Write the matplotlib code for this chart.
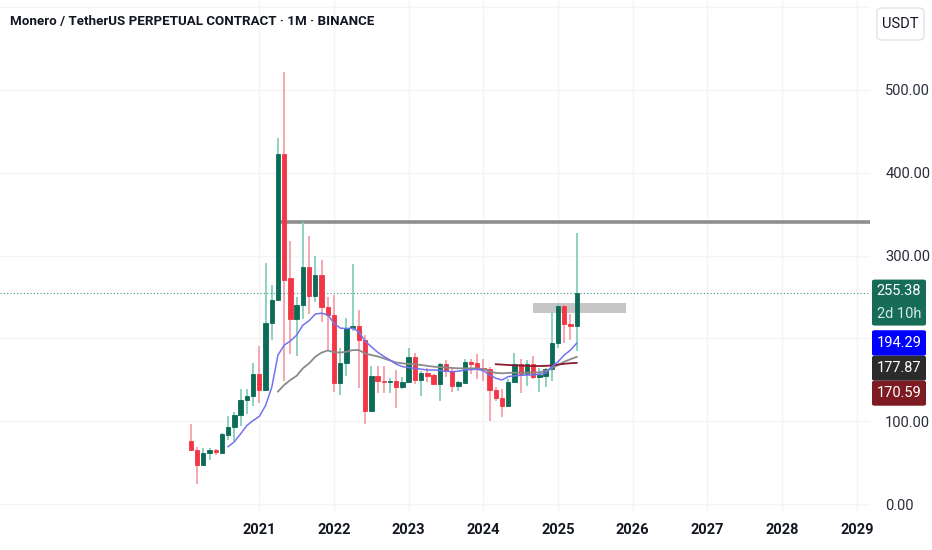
import matplotlib
matplotlib.use("Agg")
import matplotlib.pyplot as plt
from matplotlib.patches import Rectangle, FancyBboxPatch

# monthly candles, Feb 2020 .. Apr 2025 (index 0 = Feb 2020)
months = ["2020-02", "2020-03", "2020-04", "2020-05", "2020-06", "2020-07", "2020-08",
          "2020-09", "2020-10", "2020-11", "2020-12", "2021-01", "2021-02", "2021-03",
          "2021-04", "2021-05", "2021-06", "2021-07", "2021-08", "2021-09", "2021-10",
          "2021-11", "2021-12", "2022-01", "2022-02", "2022-03", "2022-04", "2022-05",
          "2022-06", "2022-07", "2022-08", "2022-09", "2022-10", "2022-11", "2022-12",
          "2023-01", "2023-02", "2023-03", "2023-04", "2023-05", "2023-06", "2023-07",
          "2023-08", "2023-09", "2023-10", "2023-11", "2023-12", "2024-01", "2024-02",
          "2024-03", "2024-04", "2024-05", "2024-06", "2024-07", "2024-08", "2024-09",
          "2024-10", "2024-11", "2024-12", "2025-01", "2025-02", "2025-03", "2025-04"]
opens = [76, 66, 47, 62, 65, 62, 84, 93, 108, 126, 131, 157, 138, 219, 247, 422, 273, 223,
         241, 286, 251, 276, 238, 228, 146, 170, 213, 215, 198, 113, 155, 149, 147, 149,
         142, 147, 178, 150, 158, 156, 145, 169, 161, 143, 146, 171.5, 170, 164, 163.5,
         138, 128, 118, 148, 169, 157, 169, 154, 155, 163, 194, 238.6, 218, 215]
highs = [97, 69, 68, 68, 67, 85.5, 106, 111, 139, 139, 171, 191, 291, 265, 442, 522, 317,
         250, 341, 324, 300, 295, 250, 253, 188, 225, 290, 234, 204, 167, 167, 167, 152,
         162, 154, 188, 182, 161, 164, 157, 171, 174, 165, 149, 175, 175.5, 181, 175,
         165.5, 141, 139, 151, 183, 175, 174, 179, 165, 165, 232, 242.5, 242, 230, 327]
lows = [64, 25, 46, 53, 60, 61, 77, 76, 94, 109, 119, 122, 137, 198, 246, 149, 181, 179,
        224, 230, 244, 220, 186, 135, 132, 155, 209, 140, 97, 111, 134, 134, 134, 116, 139,
        146, 145, 131, 147, 144.6, 125, 153, 135, 137, 145, 157, 151, 149, 101, 125, 105,
        117, 147, 134, 143, 151, 135, 141, 149, 188, 194, 198, 185]
closes = [66, 47, 62, 65, 63, 85, 93, 108, 126, 131, 157, 138, 219, 247, 422, 271, 223,
          241, 286, 251, 276, 238, 228, 146, 170, 213, 215, 198, 113, 155, 149, 147, 149,
          142, 147, 178, 150, 158, 155, 145, 169, 161, 143, 147, 171.5, 169, 164, 163,
          138, 128, 118, 148, 169, 157, 169, 154, 156, 163, 194, 238.6, 218, 215, 255.38]

# moving averages
ma_blue_start = 6
ma_blue = [69.5, 75.5, 85, 95, 101, 106, 119, 141, 180, 192, 197, 204, 216, 221.5, 229.5,
           230.5, 228.5, 218.5, 212.5, 212, 212.5, 208, 197, 190, 183.5, 178.5, 174, 169,
           166, 165, 164, 163, 162, 162, 161.5, 160.5, 160, 160.5, 162, 162.5, 163, 161,
           156, 152, 150, 154, 155, 155.5, 156, 156, 157, 158, 166, 172, 180, 186, 194.29]
ma_grey_start = 14
ma_grey = [136, 144, 150, 155, 164, 170, 178, 183, 185.5, 183.5, 183, 184, 186, 186, 182,
           180, 178.5, 176, 173.5, 171, 170, 169.2, 169, 168, 167, 166, 165.5, 165, 164.5,
           164, 164, 164, 164, 163, 160.5, 158.5, 158, 158.5, 158.7, 158.7, 158.7, 159,
           159.2, 161, 164, 168, 172, 175, 177.87]
ma_red_start = 49
ma_red = [169, 168.5, 168, 167.7, 167.3, 167, 166.8, 166.8, 167, 167.5, 168.5, 169.5,
          170.2, 170.59]

years = ["2021", "2022", "2023", "2024", "2025", "2026", "2027", "2028", "2029"]
price_ticks = [0, 100, 200, 300, 400, 500, 600]
price_labels = ["0.00", "100.00", "", "300.00", "400.00", "500.00", ""]
resistance = 341
zone_low, zone_high = 231.3, 242.6
countdown = "2d 10h"

GREEN = "#0b6b57"
GREEN_WICK = "#86cfbb"
RED = "#f23645"
RED_WICK = "#f6a0a8"
TXT = "#131722"
FONT = ["Roboto", "DejaVu Sans"]

W, H = 932, 550
fig = plt.figure(figsize=(W / 100, H / 100), dpi=100)
fig.patch.set_facecolor("white")
ax = fig.add_axes([0, 37 / H, 870 / W, 513 / H])
ax.set_xlim(-30.66, 109.12)
ax.set_ylim(-10.5, 608.3)
for s in ax.spines.values():
    s.set_visible(False)

idx = list(range(len(months)))
year_pos = [11 + 12 * k for k in range(len(years))]

# grid
for v in price_ticks:
    ax.axhline(v, color="#f3f4f7", lw=1, zorder=0)
for xp in year_pos:
    ax.axvline(xp, color="#f3f4f7", lw=1, zorder=0)

# zone + resistance
ax.add_patch(Rectangle((55.0, zone_low), 14.9, zone_high - zone_low,
                       facecolor="#c6c6c6", edgecolor="none", zorder=1))
ax.hlines(resistance, 14.3, 109.12, color="#8e8e8e", lw=2.6, zorder=1)

# candles
up = [c >= o for o, c in zip(opens, closes)]
wick_cols = [GREEN_WICK if u else RED_WICK for u in up]
body_cols = [GREEN if u else RED for u in up]
ax.vlines(idx, lows, highs, colors=wick_cols, lw=1.3, zorder=2)
bottoms = [min(o, c) for o, c in zip(opens, closes)]
heights = [abs(c - o) for o, c in zip(opens, closes)]
ax.bar(idx, heights, bottom=bottoms, width=0.7, color=body_cols,
       edgecolor=body_cols, linewidth=0.6, zorder=3)

# moving averages
ax.plot(range(ma_grey_start, ma_grey_start + len(ma_grey)), ma_grey,
        color="#8a8a8a", lw=1.3, zorder=4)
ax.plot(range(ma_red_start, ma_red_start + len(ma_red)), ma_red,
        color="#8b1c2b", lw=1.3, zorder=4)
ax.plot(range(ma_blue_start, ma_blue_start + len(ma_blue)), ma_blue,
        color="#7373f0", lw=1.1, zorder=5)

# last price dotted line
ax.axhline(closes[-1], color="#3a9582", lw=0.8, ls=(0, (1, 2)), zorder=2)

# axes ticks
ax.set_xticks(year_pos)
ax.set_xticklabels(years, fontsize=10.5, fontweight="bold", color=TXT, family=FONT)
ax.tick_params(axis="x", length=0, pad=7)
ax.yaxis.tick_right()
ax.set_yticks(price_ticks)
ax.set_yticklabels(price_labels, fontsize=10.5, color="#2a2e39", family=FONT)
ax.tick_params(axis="y", length=0, pad=11)


def fx(x):
    return x / W


def fy(y):
    return 1 - y / H


def ypix(v):
    return H - ax.transData.transform((0, v))[1]


# price tags on the right axis
def tag(y_top, y_bot, color, lines, text_cols):
    fig.add_artist(FancyBboxPatch((fx(872), fy(y_bot)), fx(926) - fx(872), fy(y_top) - fy(y_bot),
                                  boxstyle="round,pad=0,rounding_size=0.003",
                                  transform=fig.transFigure, facecolor=color,
                                  edgecolor="none", zorder=10))
    n = len(lines)
    for k, (t, c) in enumerate(zip(lines, text_cols)):
        yc = y_top + (y_bot - y_top) * (k + 0.5) / n
        fig.text(fx(899), fy(yc), t, ha="center", va="center", color=c,
                 fontsize=10.5, family=FONT, zorder=11)


yg = ypix(closes[-1])
tag(yg - 13, yg + 33, "#176c58", [f"{closes[-1]:.2f}", countdown], ["white", "#d3ebe4"])
yb = ypix(ma_blue[-1])
tag(yb - 13, yb + 12.5, "#0000ff", [f"{ma_blue[-1]:.2f}"], ["white"])
tag(yb + 12.5, yb + 37.5, "#2b2b2b", [f"{ma_grey[-1]:.2f}"], ["white"])
tag(yb + 37.5, yb + 62.5, "#7e1a21", [f"{ma_red[-1]:.2f}"], ["white"])

# currency box
fig.add_artist(FancyBboxPatch((fx(877), fy(40)), fx(47), fy(8) - fy(40),
                              boxstyle="round,pad=0,rounding_size=0.006",
                              transform=fig.transFigure, facecolor="white",
                              edgecolor="#e0e3eb", lw=1, zorder=10))
fig.text(fx(900.5), fy(24), "USDT", ha="center", va="center", fontsize=10.5,
         color=TXT, family=FONT, zorder=11)

# title
fig.text(fx(10), fy(22), "Monero / TetherUS PERPETUAL CONTRACT · 1M · BINANCE",
         ha="left", va="center", fontsize=9.6, color=TXT, family=FONT,
         fontweight="bold")

fig.savefig("out.png", dpi=100)
